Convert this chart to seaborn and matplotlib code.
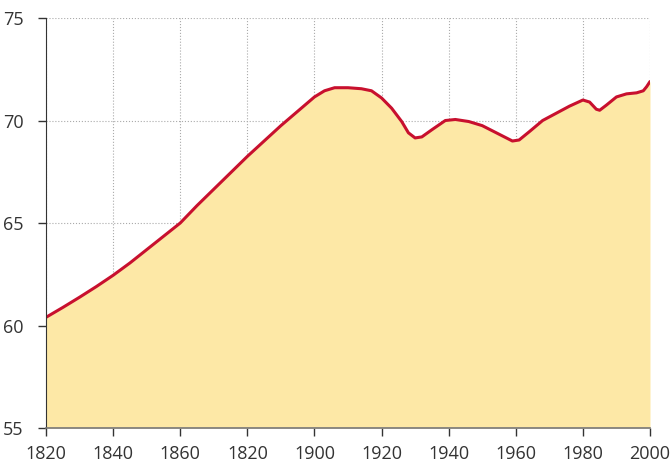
import numpy as np
import pandas as pd
import seaborn as sns
import matplotlib.pyplot as plt

# data
years = [1820, 1825, 1830, 1835, 1840, 1845, 1850, 1855, 1860, 1865, 1870, 1875,
         1880, 1885, 1890, 1895, 1900, 1903, 1906, 1910, 1914, 1917, 1920, 1923,
         1926, 1928, 1930, 1932, 1935, 1939, 1942, 1946, 1950, 1953, 1956, 1959,
         1961, 1964, 1968, 1972, 1976, 1980, 1982, 1984, 1985, 1987, 1990, 1993,
         1996, 1998, 1999, 2000]
life = [60.4, 60.88, 61.38, 61.9, 62.45, 63.05, 63.7, 64.35, 65.0, 65.85, 66.65, 67.45,
        68.25, 69.0, 69.75, 70.45, 71.15, 71.45, 71.6, 71.6, 71.55, 71.45, 71.1, 70.6,
        69.95, 69.4, 69.15, 69.2, 69.55, 70.0, 70.05, 69.95, 69.75, 69.5, 69.25, 69.0,
        69.05, 69.45, 70.0, 70.35, 70.7, 71.0, 70.9, 70.55, 70.5, 70.75, 71.15, 71.3,
        71.35, 71.45, 71.65, 71.9]
xticks = [1820, 1840, 1860, 1880, 1900, 1920, 1940, 1960, 1980, 2000]
xticklabels = ['1820', '1840', '1860', '1820', '1900', '1920', '1940', '1960', '1980', '2000']
yticks = [55, 60, 65, 70, 75]

df = pd.DataFrame({'year': years, 'life': life})

sns.set_style('white')
plt.rcParams['font.family'] = ['Open Sans', 'DejaVu Sans']

fig = plt.figure(figsize=(6.71, 4.62), dpi=100)
ax = fig.add_axes([0.0686, 0.0736, 0.9001, 0.8874])

ax.fill_between(df['year'], df['life'], 55, color='#fde8a6', linewidth=0, zorder=1)
sns.lineplot(data=df, x='year', y='life', color='#c8102e', linewidth=2.2, ax=ax, zorder=3)

ax.set_xlim(1820, 2000)
ax.set_ylim(55, 75)
ax.set_xticks(xticks)
ax.set_xticklabels(xticklabels)
ax.set_yticks(yticks)
ax.set_xlabel('')
ax.set_ylabel('')

ax.grid(True, linestyle=':', color='#aaaaaa', linewidth=0.8, zorder=2)
for l in ax.get_xgridlines() + ax.get_ygridlines():
    l.set_zorder(2)

for s in ['top', 'right']:
    ax.spines[s].set_visible(False)
ax.spines['left'].set_color('#333333')
ax.spines['bottom'].set_color('#777777')
ax.spines['bottom'].set_linewidth(1.2)
ax.spines['left'].set_zorder(4)
ax.spines['bottom'].set_zorder(4)
ax.tick_params(axis='both', direction='out', length=6, width=1, color='#333333',
               labelsize=13, labelcolor='#333333', bottom=True, left=True)
ax.tick_params(axis='x', pad=6)
ax.tick_params(axis='y', pad=10)

fig.savefig('out.png', dpi=100)
